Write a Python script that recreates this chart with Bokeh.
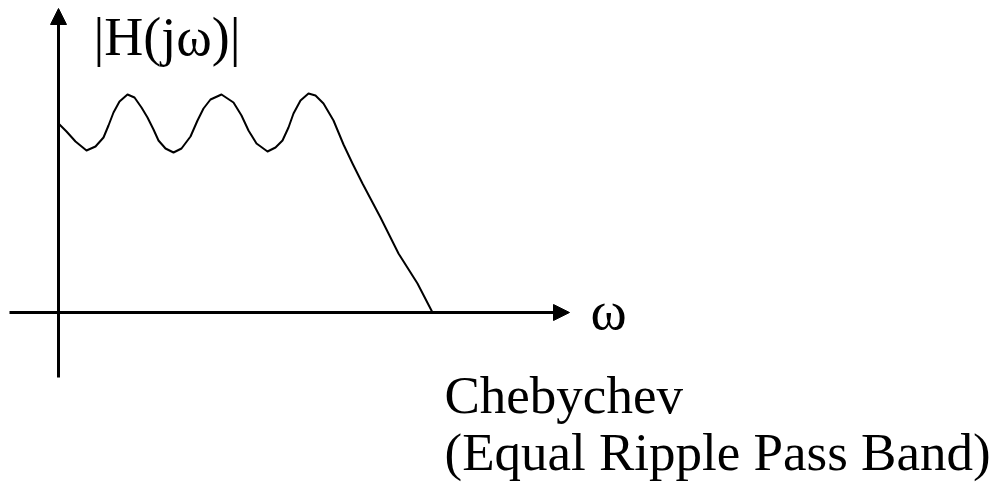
from bokeh.plotting import figure
from bokeh.models import Range1d, Arrow, NormalHead
from bokeh.core.properties import value
from bokeh.embed import file_html
from bokeh.resources import INLINE

# Magnitude response (omega, |H(jw)|)
omega = [0.00, 0.08, 0.17, 0.28, 0.37, 0.45, 0.50, 0.55, 0.61, 0.69, 0.76, 0.83,
         0.89, 0.95, 1.00, 1.07, 1.15, 1.23, 1.32, 1.39, 1.45, 1.52, 1.63, 1.75,
         1.83, 1.90, 1.98, 2.09, 2.17, 2.24, 2.30, 2.35, 2.42, 2.50, 2.57, 2.65,
         2.75, 2.85, 2.94, 3.04, 3.22, 3.40, 3.59, 3.74]
mag = [1.89, 1.81, 1.71, 1.62, 1.66, 1.75, 1.87, 2.00, 2.11, 2.18, 2.15, 2.05,
       1.95, 1.83, 1.72, 1.64, 1.60, 1.64, 1.76, 1.92, 2.04, 2.13, 2.18, 2.10,
       1.97, 1.82, 1.69, 1.61, 1.65, 1.72, 1.85, 1.99, 2.12, 2.19, 2.17, 2.09,
       1.92, 1.68, 1.49, 1.29, 0.95, 0.59, 0.29, 0.00]

y_label = "|H(jω)|"
x_label = "ω"
title_lines = ["Chebychev", "(Equal Ripple Pass Band)"]

p = figure(width=995, height=486, output_backend="svg", toolbar_location=None,
           x_range=Range1d(-0.58, 9.37), y_range=Range1d(-1.74, 3.12),
           x_axis_location=None, y_axis_location=None, min_border=0)
p.grid.visible = False
p.outline_line_color = None
p.background_fill_color = "white"
p.border_fill_color = "white"

# axes with arrow heads
p.add_layout(Arrow(end=NormalHead(size=16, fill_color="black", line_color="black"),
                   x_start=0, y_start=-0.65, x_end=0, y_end=3.04,
                   line_width=3, line_color="black"))
p.add_layout(Arrow(end=NormalHead(size=16, fill_color="black", line_color="black"),
                   x_start=-0.49, y_start=0, x_end=5.11, y_end=0,
                   line_width=3, line_color="black"))

p.line(omega, mag, line_width=2, line_color="black", line_join="round")

serif = value("Liberation Serif")
p.text(x=[0.35], y=[2.76], text=[y_label], text_font=serif, text_font_size="54px",
       text_baseline="alphabetic", text_align="left", text_color="black")
p.text(x=[5.32], y=[0.02], text=[x_label], text_font=serif, text_font_size="55px",
       text_baseline="alphabetic", text_align="left", text_color="black")
p.text(x=[3.86, 3.86], y=[-0.82, -1.39], text=title_lines, text_font=serif,
       text_font_size="53px", text_baseline="alphabetic", text_align="left",
       text_color="black")

open("out.html", "w").write(file_html(p, INLINE))
